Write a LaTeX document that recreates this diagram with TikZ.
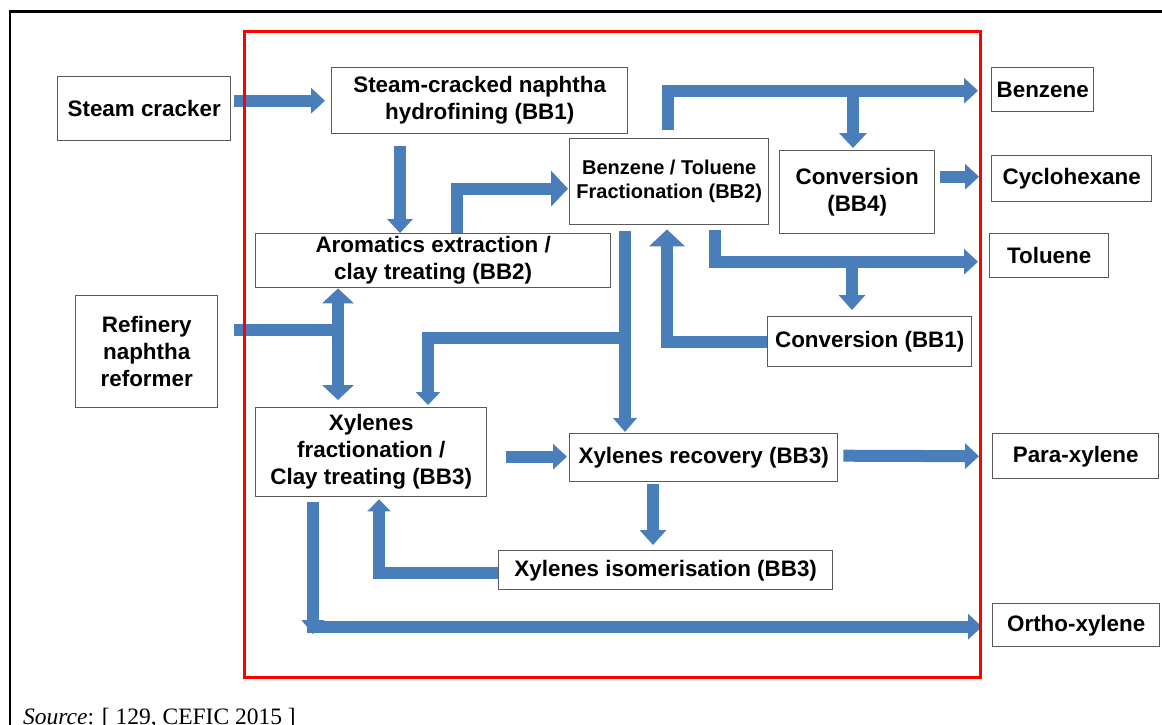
\documentclass[tikz,border=0pt]{standalone}
\usepackage{fontspec}
\setmainfont{Liberation Sans}
\newfontfamily\srcfont{Liberation Serif}
\usetikzlibrary{arrows.meta,calc}
\definecolor{flowblue}{RGB}{74,126,187}
\definecolor{boxgray}{RGB}{90,90,90}
\begin{document}
\begin{tikzpicture}[x=1pt,y=-1pt,
  box/.style={draw=boxgray,line width=1.4pt,fill=white,inner sep=0pt,align=center,anchor=north west,
    font=\bfseries\fontsize{22.4}{27}\selectfont},
  smallbox/.style={box,font=\bfseries\fontsize{20}{24}\selectfont},
  flow/.style={draw=flowblue,line width=12pt,line join=miter,-{Triangle[width=25pt,length=14pt]}},
  bigflow/.style={flow,-{Triangle[width=35pt,length=17pt]}},
  midflow/.style={flow,-{Triangle[width=31pt,length=15pt]}},
  redframe/.style={draw=red,line width=3pt},
  pageframe/.style={draw=black,line width=2.6pt}
]
\path[use as bounding box] (0,0) rectangle (1162,724);
\clip (0,0) rectangle (1162,724);
\fill[white] (0,0) rectangle (1162,724);
\draw[pageframe] (10,730) -- (10,11.5) -- (1170,11.5);

% nodes
\node[box,minimum width=173pt,minimum height=64pt] (sc) at (57,76) {Steam cracker};
\node[box,minimum width=296pt,minimum height=66pt] (hf) at (331,67) {Steam-cracked naphtha\\hydrofining (BB1)};
\node[smallbox,minimum width=199pt,minimum height=86pt] (btf) at (569,138) {Benzene / Toluene\\Fractionation (BB2)};
\node[box,minimum width=155pt,minimum height=83pt] (c4) at (779,150) {Conversion\\(BB4)};
\node[box,minimum width=102pt,minimum height=44pt] (bz) at (991,67) {Benzene};
\node[box,minimum width=160pt,minimum height=46pt] (cy) at (991,155) {Cyclohexane};
\node[box,minimum width=119pt,minimum height=44pt] (tol) at (989,233) {Toluene};
\node[box,minimum width=355pt,minimum height=54pt] (ar) at (255,233) {Aromatics extraction /\\clay treating (BB2)};
\node[box,minimum width=142pt,minimum height=112pt] (rf) at (75,295) {Refinery\\naphtha\\reformer};
\node[box,minimum width=204pt,minimum height=50pt] (c1) at (767,316) {Conversion (BB1)};
\node[box,minimum width=231pt,minimum height=89pt] (xf) at (255,407) {Xylenes\\fractionation /\\Clay treating (BB3)};
\node[box,minimum width=268pt,minimum height=48pt] (xr) at (569,433) {Xylenes recovery (BB3)};
\node[box,minimum width=166pt,minimum height=45pt] (px) at (992,433) {Para-xylene};
\node[box,minimum width=334pt,minimum height=39pt] (xi) at (498,550) {Xylenes isomerisation (BB3)};
\node[box,minimum width=167pt,minimum height=43pt] (ox) at (992,603) {Ortho-xylene};

% connector end points
\coordinate (bzin) at ($(bz.west)+(-13,1)$);
\coordinate (c4in) at ($(c4.north west)+(74,-2)$);
\coordinate (tolin) at ($(tol.west)+(-11,6)$);
\coordinate (c1in) at ($(c1.north west)+(85,-6)$);

% connectors
\draw[flow] ($(sc.east |- hf.west)+(3,0)$) -- ($(hf.west)+(-6,0)$);
\draw[flow] ($(hf.south west)+(69,12)$) coordinate (a2) -- (a2 |- ar.north);
\draw[bigflow] ($(ar.north west)+(202,0)$) |- ($(btf.west)+(-1,7)$);
\draw[flow] ($(btf.north west)+(99,-8)$) |- (bzin);
\draw[flow,-{Triangle[width=27pt,length=15pt]}] (c4in |- bzin) -- (c4in);
\draw[flow] ($(cy.west -| c4.east)+(5,-2)$) -- ($(cy.west)+(-12,-2)$);
\draw[flow] ($(btf.south west)+(146,5)$) |- (tolin);
\draw[flow,-{Triangle[width=26pt,length=15pt]}] (c1in |- tolin) -- (c1in);
\draw[bigflow] (c1.west) -| ($(btf.south west)+(98,4)$);
\draw[flow,-{Triangle[width=23pt,length=14pt]}] ($(btf.south west)+(56,6)$) -- ($(xr.north west)+(56,-1)$);
\draw[flow,-{Triangle[width=24pt,length=13pt]}] ($(xr.north west)+(56,-95)$) -| ($(xf.north west)+(173,-2)$);
\draw[midflow] ($(rf.east)+(16,-22)$) -| ($(ar.south west)+(83,0)$);
\draw[midflow] ($(ar.south west)+(83,42)$) -- ($(xf.north west)+(83,-7)$);
\draw[flow] ($(xr.west -| xf.east)+(19,-1)$) -- ($(xr.west)+(-2,-1)$);
\draw[flow] ($(xr.east)+(5,-2)$) -- ($(px.west)+(-13,0)$);
\draw[flow,-{Triangle[width=26pt,length=15pt]}] ($(xr.south west)+(84,2)$) -- ($(xi.north west)+(155,-5)$);
\draw[flow,-{Triangle[width=23pt,length=12pt]}] ($(xi.west)+(0,2.5)$) -| ($(xf.south west)+(124,2)$);
\draw[flow,-{Triangle[width=22pt,length=14pt]}] ($(xf.south west)+(58,5)$) -- ($(xf.south west |- ox.west)+(58,9)$);
\draw[flow] ($(xf.south west |- ox.west)+(52,1.5)$) -- ($(ox.west)+(-10,1.5)$);

\draw[redframe] (244.5,31.5) rectangle (980.5,677.5);

\node[anchor=base west,inner sep=0pt,font=\srcfont\fontsize{23.5}{28}\selectfont] (src) at (23,724) {\textit{Source}: [ 129, CEFIC 2015 ]};
\end{tikzpicture}
\end{document}
